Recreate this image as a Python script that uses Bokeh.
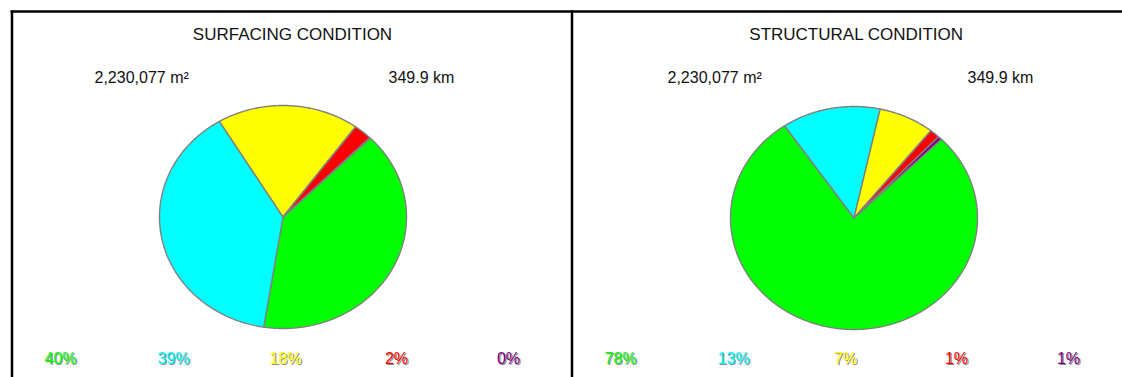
import numpy as np
from bokeh.plotting import figure
from bokeh.models import Range1d
from bokeh.core.properties import value
from bokeh.embed import file_html
from bokeh.resources import INLINE

# ---------------- data ----------------
categories = ["Good", "Fair", "Poor", "Very poor", "Failed"]
slice_colors = ["#00FF00", "#00FFFF", "#FFFF00", "#FF0000", "#800080"]
surfacing_values = [40.0, 38.9, 18.6, 2.4, 0.1]
surfacing_labels = ["40%", "39%", "18%", "2%", "0%"]
structural_values = [78.0, 12.9, 7.3, 1.3, 0.5]
structural_labels = ["78%", "13%", "7%", "1%", "1%"]
titles = ["SURFACING CONDITION", "STRUCTURAL CONDITION"]
area_text = "2,230,077 m²"
length_text = "349.9 km"

# ---------------- layout ----------------
W, H = 1122, 377
FONT = value("Liberation Sans")

p = figure(width=W, height=H, output_backend="svg", toolbar_location=None,
           x_range=Range1d(0, W), y_range=Range1d(H, 0), min_border=0)
p.axis.visible = False
p.grid.visible = False
p.outline_line_color = None
p.background_fill_color = "white"
p.border_fill_color = "white"

panels = [
    dict(left=11, values=surfacing_values, labels=surfacing_labels, title=titles[0],
         cx=282.5, cy=216.5, title_x=292, area_x=94, len_x=388),
    dict(left=571, values=structural_values, labels=structural_labels, title=titles[1],
         cx=853.5, cy=217.5, title_x=856, area_x=667, len_x=967),
]
RX, RY = 123.5, 111.5
START = 45.0
label_offsets = [49, 162, 274, 385, 497]

# frame lines
p.segment(x0=[10, 11.5, 571.5], y0=[11, 10, 10], x1=[W, 11.5, 571.5], y1=[11, H, H],
          line_color="#000000", line_width=2.5)

for pan in panels:
    vals = np.array(pan["values"], dtype=float)
    fr = vals / vals.sum()
    ends = START - np.cumsum(fr) * 360.0
    starts = np.concatenate([[START], ends[:-1]])
    xs, ys = [], []
    for a0, a1 in zip(starts, ends):
        n = max(2, int(abs(a0 - a1) * 2))
        th = np.radians(np.linspace(a0, a1, n))
        xs.append(np.concatenate([[pan["cx"]], pan["cx"] + RX * np.cos(th)]).tolist())
        ys.append(np.concatenate([[pan["cy"]], pan["cy"] - RY * np.sin(th)]).tolist())
    p.patches(xs, ys, fill_color=slice_colors, line_color="#808080", line_width=1.4)

    p.text(x=[pan["title_x"]], y=[34], text=[pan["title"]], text_font=FONT,
           text_font_size="17px", text_align="center", text_baseline="middle",
           text_color="#111111")
    p.text(x=[pan["area_x"], pan["len_x"]], y=[77, 77], text=[area_text, length_text],
           text_font=FONT, text_font_size="16px", text_align="left",
           text_baseline="middle", text_color="#111111")

    lx = [pan["left"] + o for o in label_offsets]
    p.text(x=[v + 1.2 for v in lx], y=[359.2] * 5, text=pan["labels"], text_font=FONT,
           text_font_size="16px", text_align="center",
           text_baseline="middle", text_color="#8a8a8a")
    p.text(x=lx, y=[358] * 5, text=pan["labels"], text_font=FONT,
           text_font_size="16px", text_align="center",
           text_baseline="middle", text_color=slice_colors)

open("out.html", "w").write(file_html(p, INLINE))
